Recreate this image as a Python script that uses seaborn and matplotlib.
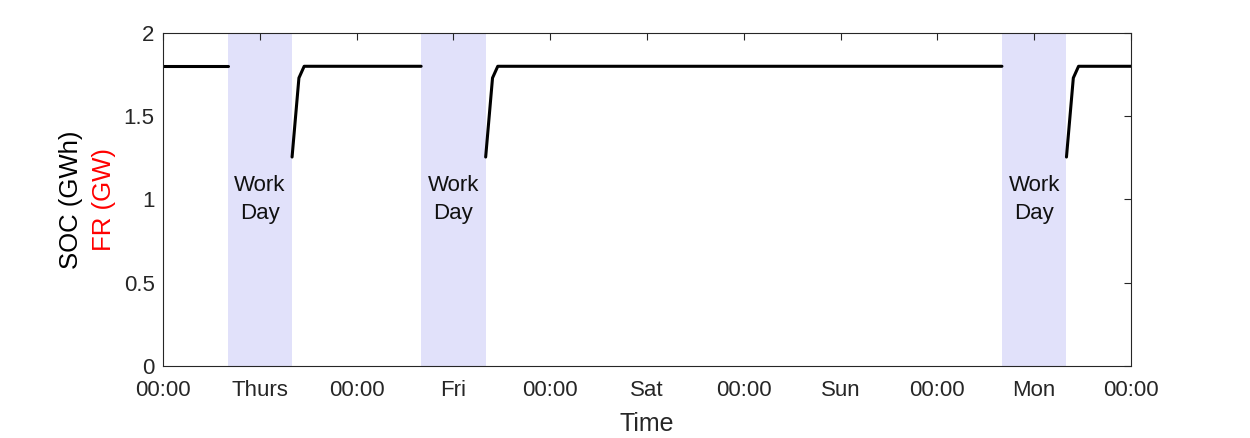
import numpy as np
import pandas as pd
import matplotlib
matplotlib.use("Agg")
import matplotlib.pyplot as plt
import seaborn as sns

# ---- data (hours from start) ----
seg_id = [0, 0, 1, 1, 1, 1, 2, 2, 2, 2, 3, 3, 3, 3]
hours  = [0, 8, 16, 16.85, 17.5, 32, 40, 40.85, 41.5, 104, 112, 112.85, 113.5, 120]
soc    = [1.8, 1.8, 1.255, 1.73, 1.8, 1.8, 1.255, 1.73, 1.8, 1.8, 1.255, 1.73, 1.8, 1.8]

work_start = [8, 32, 104]
work_end = [16, 40, 112]
work_label = "Work\nDay"

tick_pos = [0, 12, 24, 36, 48, 60, 72, 84, 96, 108, 120]
tick_labels = ["00:00", "Thurs", "00:00", "Fri", "00:00", "Sat", "00:00", "Sun", "00:00", "Mon", "00:00"]
ytick_pos = [0, 0.5, 1, 1.5, 2]
ytick_labels = ["0", "0.5", "1", "1.5", "2"]

df = pd.DataFrame({"seg": seg_id, "hours": hours, "soc": soc})

sns.set_style("white")
plt.rcParams['font.family'] = ['Liberation Sans', 'DejaVu Sans']

fig = plt.figure(figsize=(12.5, 4.38), dpi=100)
ax = fig.add_axes([0.1304, 0.1644, 0.7744, 0.7603])

for s, e in zip(work_start, work_end):
    ax.axvspan(s, e, color="#e1e1fa", lw=0, zorder=0)
    ax.text((s + e) / 2, 1.0, work_label, ha="center", va="center",
            fontsize=16, color="#111111", linespacing=1.45)

sns.lineplot(data=df, x="hours", y="soc", units="seg", estimator=None,
             color="black", lw=2.2, ax=ax, legend=False)

ax.set_xlim(0, 120)
ax.set_ylim(0, 2)
ax.set_xticks(tick_pos)
ax.set_xticklabels(tick_labels)
ax.set_yticks(ytick_pos)
ax.set_yticklabels(ytick_labels)
ax.tick_params(direction="in", length=5, width=0.8, labelsize=16,
               colors="#262626", top=True, right=True)
ax.tick_params(axis="x", pad=10)
ax.tick_params(axis="y", pad=6)
for sp in ax.spines.values():
    sp.set_visible(True)
    sp.set_color("#262626")
    sp.set_linewidth(0.8)

ax.set_xlabel("Time", fontsize=18, color="#262626", labelpad=8)
ax.set_ylabel("")

yc = 0.5
fig.text(0.0565, 0.1644 + 0.7603 * yc, "SOC (GWh)", rotation=90, ha="center", va="center",
         fontsize=18.5, color="black", transform=fig.transFigure)
fig.text(0.0832, 0.1644 + 0.7603 * yc, "FR (GW)", rotation=90, ha="center", va="center",
         fontsize=18.5, color="#ff0000", transform=fig.transFigure)

fig.savefig("out.png", dpi=100, facecolor="white")
